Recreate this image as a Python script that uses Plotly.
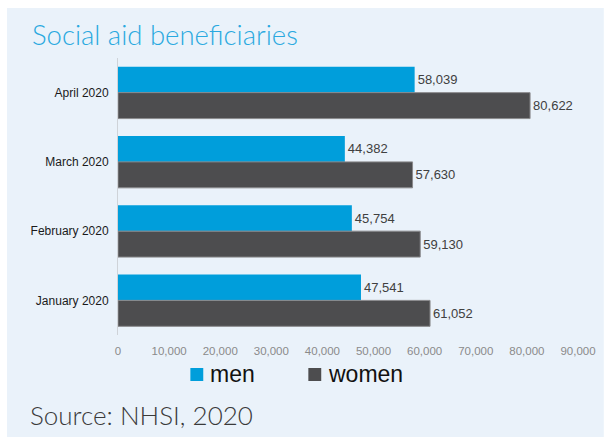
import plotly.graph_objects as go

# Monthly social aid beneficiaries by sex
months = ["April 2020", "March 2020", "February 2020", "January 2020"]
men = [58039, 44382, 45754, 47541]
women = [80622, 57630, 59130, 61052]
x_ticks = [0, 10000, 20000, 30000, 40000, 50000, 60000, 70000, 80000, 90000]
series_names = ["men", "women"]

MEN_COLOR = "#009EDB"
WOMEN_COLOR = "#4D4D4F"
PANEL = "#EAF2FA"
SANS = "Liberation Sans, Arial, sans-serif"

W, H = 608, 438
L, R, T, B = 118, 26, 58, 103
pw, ph = W - L - R, H - T - B


def px_x(p):
    return (p - L) / pw


def px_y(p):
    return (H - B - p) / ph


fig = go.Figure()
fig.add_trace(go.Bar(
    y=months, x=men, name=series_names[0], orientation="h",
    marker=dict(color=MEN_COLOR, line=dict(width=0)),
    text=[f"{v:,}" for v in men], textposition="outside",
    textfont=dict(size=13, color="#404040"), cliponaxis=False,
))
fig.add_trace(go.Bar(
    y=months, x=women, name=series_names[1], orientation="h",
    marker=dict(color=WOMEN_COLOR, line=dict(width=1, color="#8a8a8c")),
    text=[f"{v:,}" for v in women], textposition="outside",
    textfont=dict(size=13, color="#404040"), cliponaxis=False,
))

# Background panel
fig.add_shape(type="rect", xref="paper", yref="paper",
              x0=px_x(6), x1=px_x(608), y0=px_y(437), y1=px_y(8),
              fillcolor=PANEL, line=dict(width=0), layer="below")

# Title and source line
fig.add_annotation(text="Social aid beneficiaries", xref="paper", yref="paper",
                   x=px_x(29), y=px_y(34), xanchor="left", yanchor="middle",
                   showarrow=False,
                   font=dict(family="Lato", size=27.5, color="#29A9E0", weight=300))
fig.add_annotation(text="Source: NHSI, 2020", xref="paper", yref="paper",
                   x=px_x(27), y=px_y(415), xanchor="left", yanchor="middle",
                   showarrow=False,
                   font=dict(family="Lato", size=26, color="#3a3a3a", weight=300))

# Legend: colour swatch followed by series name
legend_items = [(series_names[0], MEN_COLOR, 191), (series_names[1], WOMEN_COLOR, 310)]
for name, color, sx in legend_items:
    fig.add_shape(type="rect", xref="paper", yref="paper",
                  x0=px_x(sx), x1=px_x(sx + 13), y0=px_y(381), y1=px_y(368),
                  fillcolor=color, line=dict(width=0))
    fig.add_annotation(text=name, xref="paper", yref="paper",
                       x=px_x(sx + 18), y=px_y(374), xanchor="left", yanchor="middle",
                       showarrow=False,
                       font=dict(family=SANS, size=23, color="#111111"))

fig.update_layout(
    width=W, height=H,
    margin=dict(l=L, r=R, t=T, b=B, pad=0),
    paper_bgcolor="white", plot_bgcolor="rgba(0,0,0,0)",
    barmode="group", bargap=0.25, bargroupgap=0,
    font=dict(family=SANS),
    showlegend=False,
    xaxis=dict(range=[0, 90000], tickvals=x_ticks,
               ticktext=[f"{v:,}" for v in x_ticks],
               showgrid=False, zeroline=False, showline=False,
               tickfont=dict(size=11.5, color="#8a8a8a"),
               ticklabelstandoff=7),
    yaxis=dict(autorange="reversed", showgrid=False, zeroline=False,
               showline=True, linecolor="#cfd3d8", linewidth=1,
               tickfont=dict(size=12, color="#1a1a1a"),
               ticklabelstandoff=6),
)

fig.write_html("out.html")
